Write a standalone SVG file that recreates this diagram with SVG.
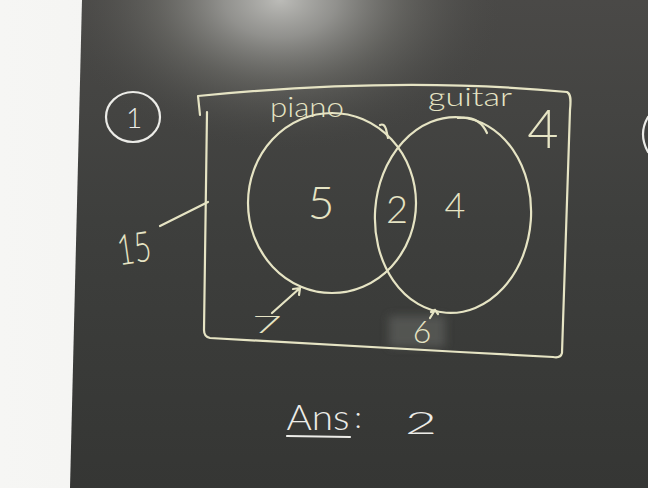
<svg xmlns="http://www.w3.org/2000/svg" width="648" height="488" viewBox="0 0 648 488">
  <defs>
    <linearGradient id="board" x1="0" y1="0" x2="0" y2="1">
      <stop offset="0" stop-color="#4a4947"/>
      <stop offset="0.45" stop-color="#3e3f3d"/>
      <stop offset="1" stop-color="#353634"/>
    </linearGradient>
    <radialGradient id="glare" cx="280" cy="0" r="300" gradientUnits="userSpaceOnUse" gradientTransform="translate(280 0) scale(0.75 0.5) translate(-280 0)">
      <stop offset="0" stop-color="#c8c8c4" stop-opacity="0.9"/>
      <stop offset="0.25" stop-color="#b0b0ac" stop-opacity="0.7"/>
      <stop offset="0.55" stop-color="#85857f" stop-opacity="0.4"/>
      <stop offset="1" stop-color="#4a4a47" stop-opacity="0"/>
    </radialGradient>
    <linearGradient id="wall" x1="0" y1="0" x2="1" y2="0">
      <stop offset="0" stop-color="#f6f6f4"/>
      <stop offset="1" stop-color="#ececea"/>
    </linearGradient>
    <filter id="blur" x="-30%" y="-30%" width="160%" height="160%">
      <feGaussianBlur stdDeviation="4"/>
    </filter>
    <style>
      .chalk { fill: none; stroke: #e6e4c4; stroke-width: 2.2; stroke-linecap: round; stroke-linejoin: round; }
      .white { fill: none; stroke: #ecece8; stroke-width: 2.2; stroke-linecap: round; stroke-linejoin: round; }
      .t { font-family: Lato, "Noto Sans", "Liberation Sans", sans-serif; font-weight: 300; fill: #e6e4c4; text-anchor: middle; }
      .tw { font-family: Lato, "Noto Sans", "Liberation Sans", sans-serif; font-weight: 300; fill: #ecece8; text-anchor: middle; }
    </style>
  </defs>

  <!-- background: wall and board -->
  <rect x="0" y="0" width="648" height="488" fill="url(#wall)"/>
  <polygon points="82,0 648,0 648,488 70,488" fill="url(#board)"/>
  <polygon points="82,0 648,0 648,488 70,488" fill="url(#glare)"/>
  <rect x="389" y="316" width="56" height="31" fill="#5a5b58" opacity="0.8" filter="url(#blur)"/>

  <!-- question number -->
  <g id="qnum">
    <ellipse cx="133" cy="117" rx="27" ry="25" class="white"/>
    <text x="134" y="128" class="tw" font-size="28">1</text>
  </g>

  <!-- universal set -->
  <g id="universe">
    <path class="chalk" d="M198,96 L200,115 M198,96 Q400,76 567,92 C571,94 571,100 570,110 L562,353 C561,357 558,358 553,357 L460,352 L210,338 C205,337 204,334 204,330 L207,112"/>
    <text x="543" y="148" class="t" font-size="54">4</text>
  </g>

  <g id="total">
    <text x="134" y="263" class="t" font-size="42" textLength="34" lengthAdjust="spacingAndGlyphs" transform="rotate(-8 134 248)">15</text>
  </g>

  <!-- piano set -->
  <g id="piano">
    <ellipse cx="332" cy="203" rx="84" ry="90" class="chalk"/>
    <text x="307" y="117" class="t" font-size="28" textLength="74" lengthAdjust="spacingAndGlyphs">piano</text>
    <text x="321" y="219" class="t" font-size="46">5</text>
  </g>

  <!-- guitar set -->
  <g id="guitar">
    <ellipse cx="453" cy="215" rx="78" ry="98" class="chalk" transform="rotate(4 453 215)"/>
    <text x="470" y="106" class="t" font-size="26" textLength="84" lengthAdjust="spacingAndGlyphs">guitar</text>
    <text x="455" y="218" class="t" font-size="36">4</text>
  </g>

  <g id="both">
    <text x="397" y="223" class="t" font-size="38">2</text>
  </g>

  <g id="piano-only-outside">
    <text x="267" y="333" class="t" font-size="24" textLength="30" lengthAdjust="spacingAndGlyphs">7</text>
  </g>

  <g id="guitar-outside">
    <text x="422" y="343" class="t" font-size="32">6</text>
  </g>

  <!-- connectors -->
  <g id="connectors">
    <path class="chalk" d="M160,226 L208,202"/>
    <path class="chalk" d="M272,313 L300,288 M293,289 L300,288 L299,295"/>
    <path class="chalk" d="M430,318 L435,310 M431,312 L435,310 L438,314"/>
    <path class="chalk" d="M380,125 Q384,123 386,129 L388,138"/>
    <path class="chalk" d="M458,118 Q479,115 487,133"/>
  </g>

  <!-- answer -->
  <g id="answer">
    <text x="318" y="430" class="tw" font-size="36" textLength="63" lengthAdjust="spacingAndGlyphs">Ans</text>
    <text x="358" y="428" class="tw" font-size="30">:</text>
    <path class="white" d="M287,436 L350,437"/>
    <text x="421" y="434" class="tw" font-size="32" textLength="32" lengthAdjust="spacingAndGlyphs">2</text>
  </g>

  <!-- partial mark at right edge -->
  <path class="white" d="M648,117 Q638,134 648,152"/>
</svg>
